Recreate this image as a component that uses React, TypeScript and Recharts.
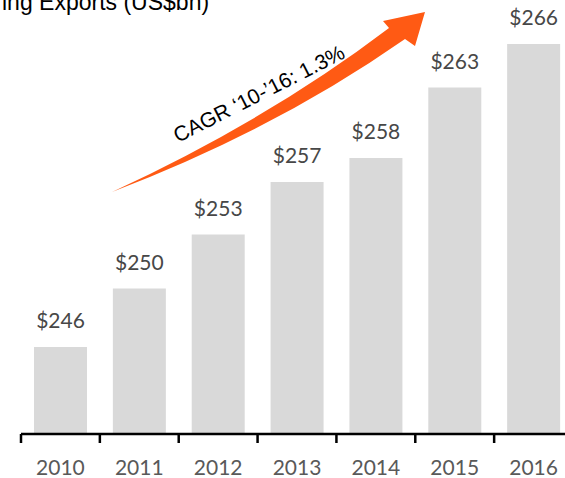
import { BarChart, Bar, XAxis, YAxis, LabelList, Customized } from "recharts";

// values; labels show the rounded figure
const years = ["2010", "2011", "2012", "2013", "2014", "2015", "2016"];
const exportsBn = [245.8, 249.7, 253.3, 256.8, 258.4, 263.1, 266.0];
const yDomain = [240, 268];

const data = years.map((year, i) => ({ year, value: exportsBn[i] }));

const CHART_W = 600;
const CHART_H = 478;
const MARGIN = { top: 14, right: 27, left: 21, bottom: 0 };
const BAND = (CHART_W - MARGIN.left - MARGIN.right) / years.length;

const NUM_FONT = "Lato, 'Open Sans', sans-serif";

const YearTick = (props: any) => {
  const { x, y, payload } = props;
  const half = payload?.offset || BAND / 2;
  return (
    <g>
      <line x1={x - half} x2={x - half} y1={y - 8} y2={y + 1} stroke="#000" strokeWidth={2.5} />
      <text x={x} y={y + 33} textAnchor="middle" fontFamily={NUM_FONT} fontSize={21} fill="#595959">
        {payload.value}
      </text>
    </g>
  );
};

const ValueLabel = (props: any) => {
  const { x, y, width, value } = props;
  return (
    <text x={x + width / 2} y={y - 19} textAnchor="middle" fontFamily={NUM_FONT} fontSize={21} fill="#474747">
      ${Math.round(value)}
    </text>
  );
};

// orange growth arrow + CAGR note
const GrowthArrow = () => (
  <g>
    <path
      d="M112,192 Q268,120 389,28 L383,21 L425,12 L415,46 L405,39 Q275,130 112,192 Z"
      fill="#FF5A14"
    />
    <text
      x={178}
      y={143}
      transform="rotate(-27 178 143)"
      fontFamily="'Liberation Sans', Arial, sans-serif"
      fontSize={21}
      fill="#000"
    >
      CAGR ‘10-’16: 1.3%
    </text>
  </g>
);

export default function App() {
  return (
    <div style={{ position: "fixed", left: 0, top: 0, width: 565, height: 478, overflow: "hidden", background: "#fff" }}>
      <svg width={565} height={20} style={{ position: "absolute", left: 0, top: 0 }}>
        <text x={2} y={10} fontFamily="'Liberation Sans', Arial, sans-serif" fontSize={23} fill="#000">
          ing Exports (US$bn)
        </text>
      </svg>
      <BarChart width={CHART_W} height={CHART_H} data={data} margin={MARGIN} barCategoryGap={13}>
        <XAxis
          dataKey="year"
          height={44}
          axisLine={{ stroke: "#000", strokeWidth: 2.5 }}
          tickLine={false}
          tick={<YearTick />}
          interval={0}
        />
        <YAxis hide domain={yDomain} allowDataOverflow />
        <Bar dataKey="value" fill="#D9D9D9" isAnimationActive={false}>
          <LabelList dataKey="value" content={<ValueLabel />} />
        </Bar>
        <Customized component={GrowthArrow} />
      </BarChart>
    </div>
  );
}
